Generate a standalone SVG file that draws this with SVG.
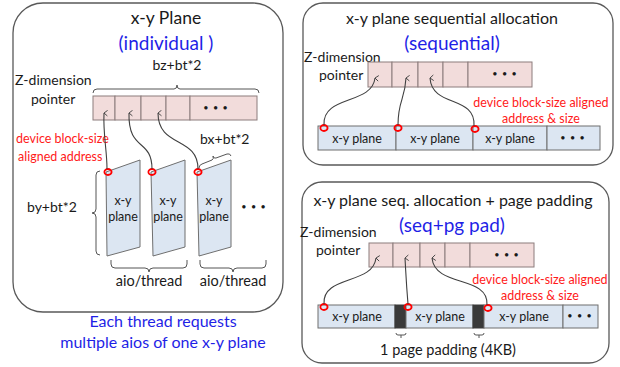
<svg xmlns="http://www.w3.org/2000/svg" width="620" height="367" viewBox="0 0 620 367">
  <defs>
    <marker id="arr" viewBox="0 0 10 10" refX="5" refY="1" markerWidth="7" markerHeight="7" orient="auto-start-reverse" markerUnits="userSpaceOnUse">
      <path d="M1,6 L5,1 L9,6" fill="none" stroke="#404040" stroke-width="1.3"/>
    </marker>
  </defs>
  <style>
    text { font-family: Lato, "Open Sans", "Liberation Sans", sans-serif; fill: #1a1a1a; }
    .panel { fill: #ffffff; stroke: #595959; stroke-width: 1.3; }
    .ptr { fill: #f2dcdb; stroke: #8c7c7c; stroke-width: 1; }
    .blk { fill: #dce6f2; stroke: #6f6f6f; stroke-width: 1; }
    .pad { fill: #3a3a3a; stroke: #3a3a3a; stroke-width: 1; }
    .ring { fill: none; stroke: #ff0000; stroke-width: 1.8; }
    .link { fill: none; stroke: #404040; stroke-width: 1.1; marker-end: url(#arr); }
    .brace { fill: none; stroke: #555555; stroke-width: 1; }
    .t { font-size: 17.5px; text-anchor: middle; }
    .ts { font-size: 16px; text-anchor: middle; }
    .sm { font-size: 14.5px; text-anchor: middle; }
    .sub { font-size: 19px; text-anchor: middle; fill: #1f1fe6; }
    .lbl { font-size: 14px; }
    .red { font-size: 12.5px; fill: #ff1a1a; }
    .cell { font-size: 12.5px; text-anchor: middle; }
    .dots { font-size: 9px; text-anchor: middle; letter-spacing: 1px; }
    .note { font-size: 16px; text-anchor: middle; fill: #1f1fe6; }
  </style>

  <!-- Panel 1: individual x-y planes -->
  <g id="panel-individual">
    <rect class="panel" x="13" y="3" width="270" height="309" rx="30"/>
    <text class="t" x="166" y="24">x-y Plane</text>
    <text class="sub" x="166" y="50">(individual )</text>
    <text class="lbl" x="177" y="70" text-anchor="middle">bz+bt*2</text>
    <text class="lbl" x="15" y="85">Z-dimension</text>
    <text class="lbl" x="31" y="104">pointer</text>
    <path class="brace" d="M93,93 q0,-4 4,-4 h77 q3,0 3,-4 q0,4 3,4 h75 q4,0 4,4"/>
    <g id="ptr-row-1">
      <rect class="ptr" x="93" y="96" width="22" height="24"/>
      <rect class="ptr" x="115" y="96" width="26" height="24"/>
      <rect class="ptr" x="141" y="96" width="25" height="24"/>
      <rect class="ptr" x="166" y="96" width="24" height="24"/>
      <rect class="ptr" x="190" y="96" width="67" height="24"/>
      <text class="dots" x="216" y="111">• • •</text>
    </g>
    <text class="red" x="16" y="143">device block-size</text>
    <text class="red" x="18" y="161">aligned address</text>
    <text class="lbl" x="200" y="144">bx+bt*2</text>
    <path class="brace" d="M199,168 q0,-3 3,-4 l10,-4 q2,-1 1,-4 q1,3 3,2 l11,-4 q3,-1 4,2"/>
    <text class="lbl" x="27" y="212">by+bt*2</text>
    <path class="brace" d="M100,171 q-4,0 -4,4 v34 q0,4 -4,4 q4,0 4,4 v34 q0,4 4,4"/>
    <g id="plane-1">
      <polygon class="blk" points="106,172 140,160 140,247 107,256"/>
      <text class="cell" x="123" y="205">x-y</text>
      <text class="cell" x="123" y="221">plane</text>
    </g>
    <g id="plane-2">
      <polygon class="blk" points="151,172 185,160 185,247 153,256"/>
      <text class="cell" x="168" y="205">x-y</text>
      <text class="cell" x="168" y="221">plane</text>
    </g>
    <g id="plane-3">
      <polygon class="blk" points="197,172 231,160 231,247 199,256"/>
      <text class="cell" x="214" y="205">x-y</text>
      <text class="cell" x="214" y="221">plane</text>
    </g>
    <text class="dots" x="254" y="210">• • •</text>
    <path class="brace" d="M111,260 v4 q0,4 4,4 h30 q4,0 4,4 q0,-4 4,-4 h30 q4,0 4,-4 v-4"/>
    <path class="brace" d="M200,260 v4 q0,4 4,4 h25 q4,0 4,4 q0,-4 4,-4 h25 q4,0 4,-4 v-4"/>
    <text class="sm" x="149" y="286">aio/thread</text>
    <text class="sm" x="233" y="286">aio/thread</text>
    <ellipse class="ring" cx="108" cy="172" rx="3.6" ry="3"/>
    <ellipse class="ring" cx="152" cy="172" rx="3.6" ry="3"/>
    <ellipse class="ring" cx="198" cy="172" rx="3.6" ry="3"/>
  </g>
  <text class="note" x="163" y="327">Each thread requests</text>
  <text class="note" x="163" y="348">multiple aios of one x-y plane</text>

  <!-- Panel 2: sequential allocation -->
  <g id="panel-sequential">
    <rect class="panel" x="303" y="3" width="310" height="162" rx="20"/>
    <text class="ts" x="452" y="24">x-y plane sequential allocation</text>
    <text class="sub" x="452" y="50">(sequential)</text>
    <text class="lbl" x="304" y="62">Z-dimension</text>
    <text class="lbl" x="319" y="80">pointer</text>
    <g id="ptr-row-2">
      <rect class="ptr" x="368" y="62" width="24" height="25"/>
      <rect class="ptr" x="392" y="62" width="26" height="25"/>
      <rect class="ptr" x="418" y="62" width="25" height="25"/>
      <rect class="ptr" x="443" y="62" width="25" height="25"/>
      <rect class="ptr" x="468" y="62" width="64" height="25"/>
      <text class="dots" x="505" y="77">• • •</text>
    </g>
    <text class="red" x="541" y="107" text-anchor="middle">device block-size aligned</text>
    <text class="red" x="541" y="123" text-anchor="middle">address &amp; size</text>
    <g id="row-2">
      <rect class="blk" x="318" y="126" width="78" height="24"/>
      <rect class="blk" x="396" y="126" width="77" height="24"/>
      <rect class="blk" x="473" y="126" width="74" height="24"/>
      <rect class="blk" x="547" y="126" width="53" height="24"/>
      <text class="cell" x="357" y="143">x-y plane</text>
      <text class="cell" x="435" y="143">x-y plane</text>
      <text class="cell" x="510" y="143">x-y plane</text>
      <text class="dots" x="573" y="141">• • •</text>
    </g>
    <ellipse class="ring" cx="324" cy="128" rx="3.6" ry="3"/>
    <ellipse class="ring" cx="398" cy="128" rx="3.6" ry="3"/>
    <ellipse class="ring" cx="475" cy="129" rx="3.6" ry="3"/>
  </g>

  <!-- Panel 3: sequential allocation with page padding -->
  <g id="panel-seq-pad">
    <rect class="panel" x="302" y="182" width="307" height="181" rx="20"/>
    <text class="ts" x="453" y="206">x-y plane seq. allocation + page padding</text>
    <text class="sub" x="452" y="232">(seq+pg pad)</text>
    <text class="lbl" x="300" y="237">Z-dimension</text>
    <text class="lbl" x="316" y="255">pointer</text>
    <g id="ptr-row-3">
      <rect class="ptr" x="369" y="243" width="24" height="24"/>
      <rect class="ptr" x="393" y="243" width="27" height="24"/>
      <rect class="ptr" x="420" y="243" width="25" height="24"/>
      <rect class="ptr" x="445" y="243" width="25" height="24"/>
      <rect class="ptr" x="470" y="243" width="64" height="24"/>
      <text class="dots" x="507" y="258">• • •</text>
    </g>
    <text class="red" x="540" y="284" text-anchor="middle">device block-size aligned</text>
    <text class="red" x="540" y="300" text-anchor="middle">address &amp; size</text>
    <g id="row-3">
      <rect class="blk" x="318" y="305" width="77" height="23"/>
      <rect class="pad" x="395" y="305" width="11" height="23"/>
      <rect class="blk" x="406" y="305" width="67" height="23"/>
      <rect class="pad" x="473" y="305" width="11" height="23"/>
      <rect class="blk" x="484" y="305" width="79" height="23"/>
      <rect class="blk" x="563" y="305" width="35" height="23"/>
      <text class="cell" x="357" y="321">x-y plane</text>
      <text class="cell" x="440" y="321">x-y plane</text>
      <text class="cell" x="524" y="321">x-y plane</text>
      <text class="dots" x="580" y="319">• • •</text>
    </g>
    <path class="brace" d="M396,333 q0,2 2,2 h6 q2,0 2,-2 M401,335 v3"/>
    <path class="brace" d="M474,333 q0,2 2,2 h6 q2,0 2,-2 M479,335 v3"/>
    <text class="sm" x="448" y="355">1 page padding (4KB)</text>
    <ellipse class="ring" cx="324" cy="307" rx="3.6" ry="3"/>
    <ellipse class="ring" cx="408" cy="307" rx="3.6" ry="3"/>
    <ellipse class="ring" cx="488" cy="308" rx="3.6" ry="3"/>
  </g>

  <!-- pointer links from plane start addresses to Z-dimension slots -->
  <g id="connectors">
    <path class="link" d="M107,169 C107,150 103,135 104,113"/>
    <path class="link" d="M152,169 C152,138 128,152 129,113"/>
    <path class="link" d="M198,169 C198,136 158,148 158,113"/>
    <path class="link" d="M324,125 C322,95 372,105 375,78"/>
    <path class="link" d="M398,125 C398,100 405,100 406,78"/>
    <path class="link" d="M474,126 C476,95 432,108 430,78"/>
    <path class="link" d="M324,304 C322,275 373,285 376,258"/>
    <path class="link" d="M408,304 C406,280 406,275 405,258"/>
    <path class="link" d="M487,305 C489,275 435,288 432,258"/>
  </g>
</svg>
